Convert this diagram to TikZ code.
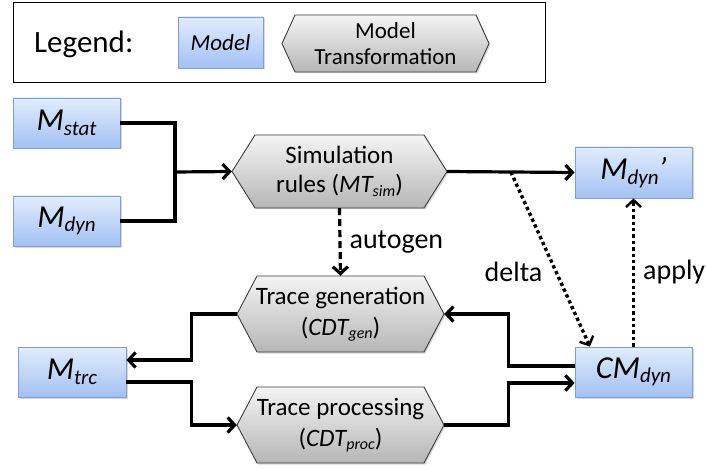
\documentclass[tikz,border=0pt]{standalone}
\usepackage{fontspec}
\setmainfont{Carlito}
\usetikzlibrary{arrows.meta,shadows,calc}

\definecolor{modeltop}{HTML}{E1ECFD}
\definecolor{modelbot}{HTML}{A3C1F2}
\definecolor{modeledge}{HTML}{7C9FD6}
\definecolor{hextop}{HTML}{F4F4F4}
\definecolor{hexbot}{HTML}{B6B6B6}
\definecolor{hexedge}{HTML}{3C3C3C}

\newcommand\fs[2]{\fontsize{#1}{#2}\selectfont}
% lowered subscripts for model names and transformation names
\newcommand\msub[1]{\raisebox{-4.5pt}{\fs{21}{21}#1}}
\newcommand\hsub[1]{\raisebox{-3.5pt}{\fs{16}{16}#1}}

\tikzset{
  model/.style={draw=modeledge, line width=0.8pt, top color=modeltop,
    bottom color=modelbot, inner sep=0pt, font=\fs{32}{34}\itshape,
    drop shadow={opacity=0.3, shadow xshift=1.5pt, shadow yshift=-1.5pt}},
  hexfill/.style={draw=hexedge, line width=0.9pt, top color=hextop,
    bottom color=hexbot,
    drop shadow={opacity=0.3, shadow xshift=1.5pt, shadow yshift=-1.5pt}},
  hexlabel/.style={inner sep=0pt, align=center, font=\fs{24}{28}},
  conn/.style={line width=3.2pt, -{Straight Barb[length=7pt,width=15pt]}},
  plainconn/.style={line width=3.2pt},
  dotconn/.style={line width=3.4pt, dash pattern=on 3.4pt off 3pt,
    -{Straight Barb[length=7pt,width=15pt,line width=2.4pt]}},
  dashconn/.style={line width=3.2pt, dash pattern=on 7pt off 4pt,
    -{Straight Barb[length=7pt,width=15pt]}},
  edgelabel/.style={font=\fs{28}{30}, inner sep=0pt}
}

% hexagon: name, left x, top y, right x, bottom y, slant, text, font
\newcommand\hexnode[8]{%
  \path[hexfill] (#2,{(#3+#5)/2}) -- (#2+#6,#3) -- (#4-#6,#3) -- (#4,{(#3+#5)/2})
    -- (#4-#6,#5) -- (#2+#6,#5) -- cycle;
  \node[hexlabel, font=#8, minimum width={#4-#2}, minimum height={#5-#3}]
    (#1) at ({(#2+#4)/2},{(#3+#5)/2}) {#7};}

\begin{document}
\begin{tikzpicture}[x=1pt, y=-1pt]
\useasboundingbox (0,0) rectangle (706,470);

% legend
\draw[line width=1pt] (13,3) rectangle (545,83);
\node[anchor=west, inner sep=0pt, font=\fs{31}{34}] (legtitle) at (34,44) {Legend:};
\node[model, minimum width=85, minimum height=51, font=\fs{23}{26}\itshape]
  (legmodel) at (220.5,42.5) {Model};
\hexnode{leghex}{282}{15}{489}{72}{13}{Model\\Transformation}{\fs{23}{26}}

% models
\node[model, minimum width=107, minimum height=50] (mstat) at (66.5,123) {M\msub{stat}};
\node[model, minimum width=107, minimum height=50] (mdyn) at (66.5,221) {M\msub{dyn}};
\node[model, minimum width=117, minimum height=51] (mdynp) at (633.5,172.5) {M\msub{dyn}’};
\node[model, minimum width=117, minimum height=50] (cm) at (633.5,372) {CM\msub{dyn}};
\node[model, minimum width=108, minimum height=50] (mtrc) at (72,372) {M\msub{trc}};

% transformations
\hexnode{sim}{232}{135}{447}{208}{23}{Simulation\\rules (\textit{MT\hsub{sim}})}{\fs{25}{29}}
\hexnode{tg}{237}{276}{444}{352}{20}{Trace generation\\(\textit{CDT\hsub{gen}})}{\fs{25}{31}}
\hexnode{tp}{237}{387}{444}{463}{20}{Trace processing\\(\textit{CDT\hsub{proc}})}{\fs{25}{31}}

% connectors
\coordinate (join) at (175,172);
\draw[plainconn] (mstat.east) -| (join);
\draw[plainconn] (mdyn.east) -| (join);
\draw[conn] (join) -- (sim.west);
\draw[conn] (sim.east) -- (mdynp.west);
\coordinate (split) at ($(sim.east)!0.5!(mdynp.west)$);
\draw[dashconn] (sim.south) -- (tg.north)
  node[edgelabel, pos=0.5, right=8pt] (lblauto) {autogen};
\draw[dotconn] (split) -- ($(cm.north west)!0.13!(cm.north east)$)
  node[edgelabel, pos=0.57, left=12pt] (lbldelta) {delta};
\draw[dotconn] (cm.north) -- (mdynp.south)
  node[edgelabel, pos=0.5, right=8pt] (lblapply) {apply};
\draw[conn] ([yshift=6pt]cm.west) -- ++(-66,0) |- (tg.east);
\draw[conn] (tp.east) -- ++(64,0) |- ([yshift=-11pt]cm.west);
\draw[conn] (tg.west) -- ++(-45,0) |- ([yshift=12pt]mtrc.east);
\draw[conn] ([yshift=-10pt]mtrc.east) -| ($(tp.west)+(-45,0)$) -- (tp.west);
\end{tikzpicture}
\end{document}
